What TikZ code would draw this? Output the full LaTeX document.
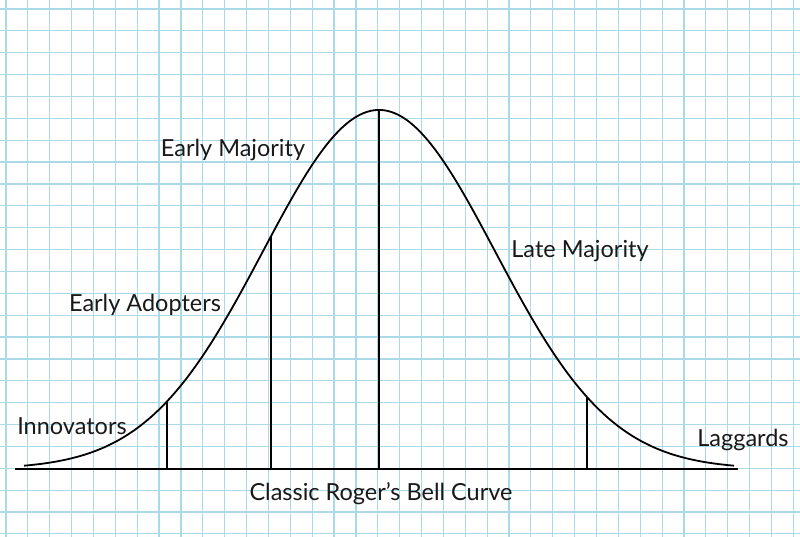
\documentclass[tikz,border=0pt]{standalone}
\usepackage{fontspec}
\setmainfont{Lato}
\definecolor{gridblue}{RGB}{170,218,232}
\begin{document}
\begin{tikzpicture}[x=1pt,y=-1pt,
  gridline/.style={draw=gridblue,line width=1.2pt},
  curveline/.style={draw=black,line width=1.8pt},
  lab/.style={font=\fontsize{23.5}{26}\selectfont,inner sep=0pt,text=black!90}]
\useasboundingbox (0,0) rectangle (800,537);
\fill[white] (0,0) rectangle (800,537);
% grid
\foreach \k in {0,...,36} {\draw[gridline] ({6+21.87*\k},0) -- ({6+21.87*\k},537);}
\foreach \k in {0,...,24} {\draw[gridline] (0,{9+21.87*\k}) -- (800,{9+21.87*\k});}
% axis
\coordinate (axL) at (15,469);
\coordinate (axR) at (738,469);
\draw[curveline] (axL) -- (axR);
% bell curve
\draw[curveline,smooth,samples=200,domain=24:734]
  plot (\x,{469-359*exp(-(((\x-379)/116)^2)/2)});
% dividers
\foreach \n/\xx in {a/167,b/271,c/379,d/587} {
  \coordinate (\n0) at (\xx,469);
  \coordinate (\n1) at (\xx,{469-359*exp(-(((\xx-379)/116)^2)/2)});
  \draw[curveline] (\n0) -- (\n1);
}
% labels
\node[lab] (em) at (233,150) {Early Majority};
\node[lab] (lm) at (580,251) {Late Majority};
\node[lab] (ea) at (145,305) {Early Adopters};
\node[lab] (in) at (72,426) {Innovators};
\node[lab] (lg) at (743,440) {Laggards};
\node[lab] (ti) at (381,494) {Classic Roger's Bell Curve};
\end{tikzpicture}
\end{document}
